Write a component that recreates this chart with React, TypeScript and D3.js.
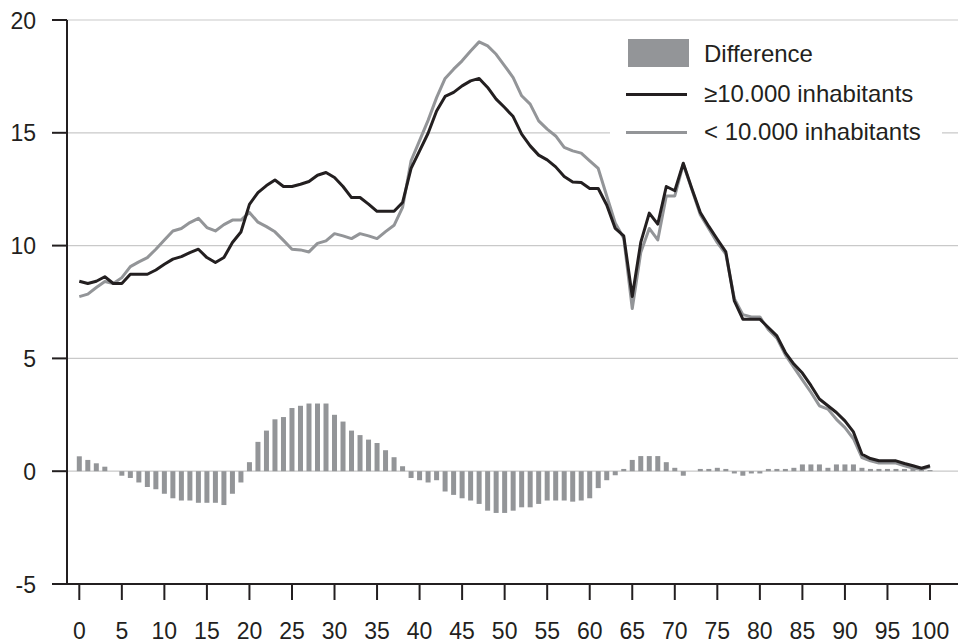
import React, { useEffect, useRef } from 'react';
import * as d3 from 'd3';

const ages = d3.range(0, 101);

const largeMunicipalities = [
  8.42, 8.32, 8.42, 8.62, 8.32, 8.32, 8.73, 8.73, 8.73, 8.92,
  9.17, 9.4, 9.51, 9.69, 9.84, 9.47, 9.25, 9.47, 10.14, 10.6,
  11.83, 12.35, 12.66, 12.91, 12.62, 12.62, 12.72, 12.84, 13.12, 13.24,
  13.02, 12.62, 12.13, 12.13, 11.84, 11.52, 11.52, 11.52, 11.91, 13.42,
  14.2, 14.98, 15.97, 16.61, 16.79, 17.08, 17.3, 17.41, 17.01, 16.49,
  16.12, 15.72, 14.94, 14.42, 14.01, 13.8, 13.49, 13.06, 12.82, 12.8,
  12.53, 12.53, 11.8, 10.76, 10.43, 7.74, 10.14, 11.44, 10.95, 12.62,
  12.43, 13.65, 12.53, 11.47, 10.85, 10.28, 9.72, 7.55, 6.74, 6.74,
  6.74, 6.37, 6.0, 5.26, 4.75, 4.35, 3.8, 3.2, 2.9, 2.6,
  2.23, 1.74, 0.75, 0.56, 0.46, 0.46, 0.46, 0.34, 0.24, 0.13,
  0.24,
];

const smallMunicipalities = [
  7.74, 7.85, 8.14, 8.41, 8.32, 8.58, 9.07, 9.28, 9.47, 9.84,
  10.25, 10.65, 10.76, 11.02, 11.21, 10.8, 10.65, 10.93, 11.13, 11.13,
  11.47, 11.04, 10.84, 10.61, 10.23, 9.84, 9.81, 9.72, 10.1, 10.21,
  10.53, 10.43, 10.31, 10.53, 10.43, 10.31, 10.62, 10.9, 11.69, 13.76,
  14.65, 15.55, 16.56, 17.41, 17.82, 18.19, 18.63, 19.03, 18.85, 18.48,
  17.97, 17.45, 16.64, 16.27, 15.53, 15.16, 14.86, 14.35, 14.2, 14.1,
  13.76, 13.42, 12.2, 11.0, 10.33, 7.21, 9.69, 10.76, 10.25, 12.2,
  12.2, 13.61, 12.5, 11.37, 10.75, 10.13, 9.62, 7.65, 6.94, 6.84,
  6.84, 6.27, 5.9, 5.16, 4.6, 4.05, 3.5, 2.9, 2.75, 2.3,
  1.93, 1.44, 0.6, 0.46, 0.36, 0.36, 0.36, 0.24, 0.14, 0.08,
  0.19,
];

const difference = [
  0.66, 0.5, 0.35, 0.2, 0, -0.2, -0.3, -0.5, -0.7, -0.8,
  -1.0, -1.2, -1.3, -1.3, -1.4, -1.4, -1.4, -1.5, -1.0, -0.5,
  0.4, 1.3, 1.8, 2.3, 2.4, 2.8, 2.9, 3.0, 3.0, 3.0,
  2.5, 2.2, 1.8, 1.6, 1.4, 1.25, 0.93, 0.62, 0.22, -0.3,
  -0.4, -0.5, -0.4, -0.9, -1.05, -1.2, -1.3, -1.45, -1.75, -1.85,
  -1.85, -1.75, -1.6, -1.6, -1.45, -1.3, -1.3, -1.3, -1.35, -1.3,
  -1.2, -0.75, -0.4, -0.18, 0.1, 0.5, 0.67, 0.67, 0.67, 0.4,
  0.15, -0.2, 0, 0.1, 0.1, 0.15, 0.1, -0.1, -0.2, -0.1,
  -0.1, 0.1, 0.1, 0.1, 0.15, 0.3, 0.3, 0.3, 0.15, 0.3,
  0.3, 0.3, 0.15, 0.1, 0.1, 0.1, 0.1, 0.1, 0.1, 0.05,
  0.05,
];

const xTicks = d3.range(0, 101, 5);
const yTicks = [-5, 0, 5, 10, 15, 20];
const gridTicks = [0, 5, 10, 15, 20];

const legendItems = [
  { label: 'Difference', kind: 'bar' },
  { label: '≥10.000 inhabitants', kind: 'dark' },
  { label: '< 10.000 inhabitants', kind: 'light' },
];

const DARK = '#231f20';
const GREY = '#939598';

const App = () => {
  const svgRef = useRef(null);

  useEffect(() => {
    const W = 958, H = 643;
    const svg = d3.select(svgRef.current).attr('width', W).attr('height', H);
    svg.selectAll('*').remove();

    const axisX = 67;
    const x = d3.scaleLinear().domain([0, 100]).range([79.3, 930]);
    const y = d3.scaleLinear().domain([-5, 20]).range([584, 20]);
    const font = "'Liberation Sans', Arial, sans-serif";

    // grid
    svg.append('g')
      .selectAll('line')
      .data(gridTicks)
      .join('line')
      .attr('x1', axisX).attr('x2', W)
      .attr('y1', (d) => y(d)).attr('y2', (d) => y(d))
      .attr('stroke', '#c9c9c9').attr('stroke-width', 1.2);

    // difference bars
    const barW = 5;
    svg.append('g')
      .selectAll('rect')
      .data(ages)
      .join('rect')
      .attr('x', (d) => x(d) - barW / 2)
      .attr('width', barW)
      .attr('y', (d) => y(Math.max(0, difference[d])))
      .attr('height', (d) => Math.abs(y(difference[d]) - y(0)))
      .attr('fill', GREY);

    const line = (vals) => d3.line().x((d) => x(d)).y((d) => y(vals[d]))(ages);

    svg.append('path').attr('d', line(smallMunicipalities))
      .attr('fill', 'none').attr('stroke', GREY).attr('stroke-width', 3)
      .attr('stroke-linejoin', 'round');
    svg.append('path').attr('d', line(largeMunicipalities))
      .attr('fill', 'none').attr('stroke', DARK).attr('stroke-width', 3)
      .attr('stroke-linejoin', 'round');

    // axes
    svg.append('line').attr('x1', axisX).attr('x2', axisX)
      .attr('y1', y(20)).attr('y2', y(-5) + 1)
      .attr('stroke', DARK).attr('stroke-width', 2);
    svg.append('line').attr('x1', 52).attr('x2', W)
      .attr('y1', y(-5)).attr('y2', y(-5))
      .attr('stroke', DARK).attr('stroke-width', 2);

    const yg = svg.append('g');
    yg.selectAll('line').data(yTicks).join('line')
      .attr('x1', 52).attr('x2', axisX)
      .attr('y1', (d) => y(d)).attr('y2', (d) => y(d))
      .attr('stroke', DARK).attr('stroke-width', 2);
    yg.selectAll('text').data(yTicks).join('text')
      .attr('x', 36).attr('y', (d) => y(d) + 8.5)
      .attr('text-anchor', 'end')
      .attr('font-family', font).attr('font-size', 23).attr('fill', DARK)
      .text((d) => d);

    const xg = svg.append('g');
    xg.selectAll('line').data(xTicks).join('line')
      .attr('x1', (d) => x(d)).attr('x2', (d) => x(d))
      .attr('y1', y(-5)).attr('y2', y(-5) + 16)
      .attr('stroke', DARK).attr('stroke-width', 2);
    xg.selectAll('text').data(xTicks).join('text')
      .attr('x', (d) => x(d)).attr('y', 638.5)
      .attr('text-anchor', 'middle')
      .attr('font-family', font).attr('font-size', 23).attr('fill', DARK)
      .text((d) => d);

    // legend
    const lg = svg.append('g');
    lg.append('rect').attr('x', 610).attr('y', 28).attr('width', 332).attr('height', 125)
      .attr('fill', '#fff');
    const rowY = [62, 102, 140];
    legendItems.forEach((item, i) => {
      if (item.kind === 'bar') {
        lg.append('rect').attr('x', 628).attr('y', 39).attr('width', 61).attr('height', 28)
          .attr('fill', GREY);
      } else {
        const ly = rowY[i] - 7.5;
        lg.append('line').attr('x1', 626).attr('x2', 687).attr('y1', ly).attr('y2', ly)
          .attr('stroke', item.kind === 'dark' ? DARK : GREY).attr('stroke-width', 3);
      }
      lg.append('text').attr('x', 704).attr('y', rowY[i])
        .attr('font-family', font).attr('font-size', 24).attr('fill', DARK)
        .text(item.label);
    });
  }, []);

  return (
    <div style={{ position: 'absolute', left: 0, top: 0 }}>
      <svg ref={svgRef}></svg>
    </div>
  );
};

export default App;
